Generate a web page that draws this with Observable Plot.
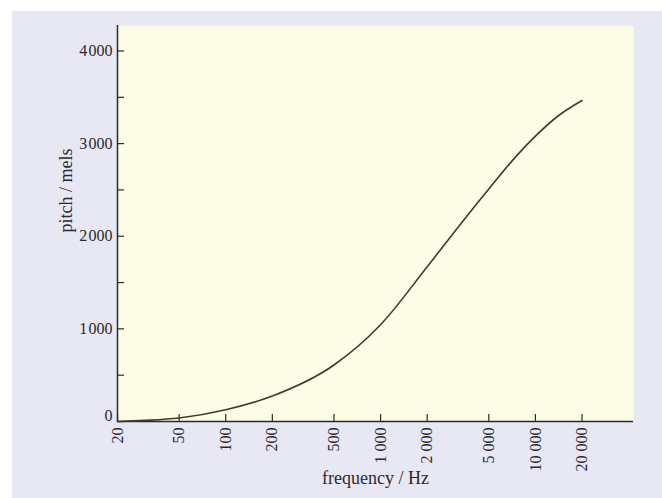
<!DOCTYPE html>
<html>
<head>
<meta charset="utf-8">
<script src="https://cdn.jsdelivr.net/npm/d3@7"></script>
<script src="https://cdn.jsdelivr.net/npm/@observablehq/plot@0.6"></script>
<style>
  html, body { margin: 0; padding: 0; background: #ffffff; }
  #panel {
    position: absolute; left: 12px; top: 11px; width: 650px; height: 487px;
    background: #e8e7f4;
  }
  #chart { position: absolute; left: 0; top: 0; }
</style>
</head>
<body>
<div id="panel"></div>
<div id="chart"></div>
<script>
// Perceived pitch (mels) against frequency (Hz)
const frequency = [20, 30, 50, 100, 200, 500, 1000, 2000, 3500, 5000, 7500, 10000, 14000, 20000];
const pitch     = [0, 12, 38, 127, 275, 610, 1045, 1670, 2190, 2510, 2862, 3080, 3298, 3465];

const xTicks = [20, 50, 100, 200, 500, 1000, 2000, 5000, 10000, 20000];
const yLabelTicks = [1000, 2000, 3000, 4000];
const yAllTicks = [0, 500, 1000, 1500, 2000, 2500, 3000, 3500, 4000];

const data = frequency.map((f, i) => ({f, mel: pitch[i]}));

const fmtX = d => d >= 1000 ? d3.format(",")(d).replace(/,/g, " ") : String(d);
const fmtY = d => d >= 1000 ? d3.format(",")(d).replace(/,/g, "\u200a") : String(d);

const ink = "#2a2a2a";
const serif = "'Liberation Serif', 'DejaVu Serif', serif";

const chart = Plot.plot({
  width: 662,
  height: 498,
  marginLeft: 117,
  marginRight: 29,
  marginTop: 25,
  marginBottom: 77,
  style: {background: "transparent", fontFamily: serif, fontSize: "16px", color: ink},
  x: {type: "log", domain: [20, 43000], axis: null},
  y: {domain: [0, 4275], axis: null},
  marks: [
    Plot.frame({fill: "#fdfce6", stroke: "none"}),
    // inward tick marks
    Plot.axisX(xTicks, {tickSize: -7, tickFormat: () => "", label: null, stroke: ink, strokeWidth: 1.2}),
    Plot.axisY(yAllTicks, {tickSize: -7, tickFormat: () => "", label: null, stroke: ink, strokeWidth: 1.2}),
    // tick labels
    Plot.text(xTicks, {
      x: d => d, frameAnchor: "bottom", dy: 6, rotate: -90,
      textAnchor: "end", lineAnchor: "middle", text: fmtX, fontSize: 16, fill: ink
    }),
    Plot.text(yLabelTicks, {
      y: d => d, frameAnchor: "left", dx: -5, textAnchor: "end",
      text: fmtY, fontSize: 16, fill: ink
    }),
    Plot.text([0], {
      y: d => d, frameAnchor: "left", dx: -5, dy: -6, textAnchor: "end",
      text: fmtY, fontSize: 16, fill: ink
    }),
    // axis titles
    Plot.text(["frequency / Hz"], {frameAnchor: "bottom", dy: 57, lineAnchor: "middle", fontSize: 18, fill: ink}),
    Plot.text(["pitch / mels"], {frameAnchor: "left", dx: -51, dy: 9, rotate: -90, lineAnchor: "middle", fontSize: 18, fill: ink}),
    // axis lines
    Plot.ruleX([20], {stroke: ink, strokeWidth: 1.5}),
    Plot.ruleY([0], {stroke: ink, strokeWidth: 1.5}),
    Plot.line(data, {x: "f", y: "mel", curve: "monotone-x", stroke: "#3a3a36", strokeWidth: 1.6})
  ]
});
document.getElementById("chart").appendChild(chart);
</script>
</body>
</html>
